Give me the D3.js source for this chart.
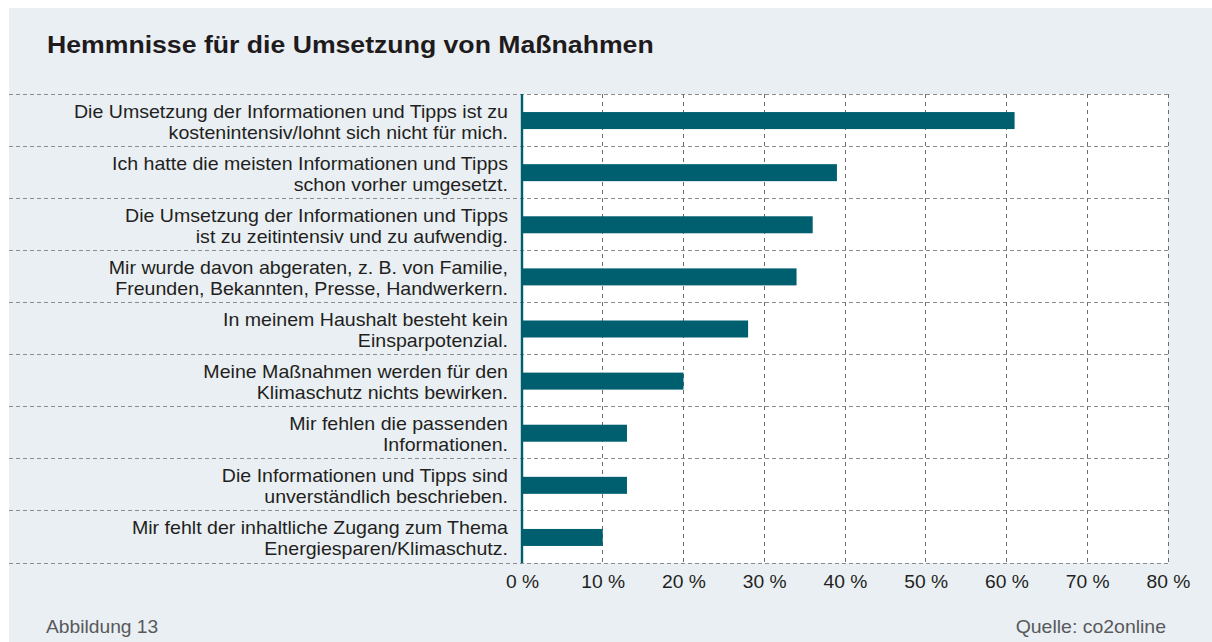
<!DOCTYPE html>
<html><head><meta charset="utf-8">
<script src="https://cdn.jsdelivr.net/npm/d3@7"></script>
<style>body{margin:0;background:#fff;}svg{display:block;font-family:"Liberation Sans",Arial,sans-serif;}</style>
</head><body>
<svg id="c" width="1212" height="642"></svg>
<script>
const categories = [
  ["Die Umsetzung der Informationen und Tipps ist zu","kostenintensiv/lohnt sich nicht für mich."],
  ["Ich hatte die meisten Informationen und Tipps","schon vorher umgesetzt."],
  ["Die Umsetzung der Informationen und Tipps","ist zu zeitintensiv und zu aufwendig."],
  ["Mir wurde davon abgeraten, z. B. von Familie,","Freunden, Bekannten, Presse, Handwerkern."],
  ["In meinem Haushalt besteht kein","Einsparpotenzial."],
  ["Meine Maßnahmen werden für den","Klimaschutz nichts bewirken."],
  ["Mir fehlen die passenden","Informationen."],
  ["Die Informationen und Tipps sind","unverständlich beschrieben."],
  ["Mir fehlt der inhaltliche Zugang zum Thema","Energiesparen/Klimaschutz."]
];
const values = [61, 39, 36, 34, 28, 20, 13, 13, 10];
const ticks = [0, 10, 20, 30, 40, 50, 60, 70, 80];
const title = "Hemmnisse für die Umsetzung von Maßnahmen";
const footLeft = "Abbildung 13";
const footRight = "Quelle: co2online";

const SX = 1.1; // horizontal stretch of the reference typography
const svg = d3.select("#c");
svg.append("rect").attr("x",9).attr("y",8).attr("width",1203).attr("height",634).attr("fill","#eaeff4");

const x = d3.scaleLinear().domain([0,80]).range([522,1168]);
const y = d3.scaleBand().domain(d3.range(categories.length)).range([94,563]).paddingInner(0).paddingOuter(0);

svg.append("rect").attr("x",x(0)).attr("y",94).attr("width",x(80)-x(0)).attr("height",563-94).attr("fill","#fff");

svg.append("text").attr("transform",`translate(47,53) scale(1.11,1)`)
  .attr("font-size",24).attr("font-weight","bold").attr("fill","#1f1b1c").text(title);

// horizontal grid lines
const hl = d3.range(categories.length+1).map(i => i===categories.length ? y.range()[1] : y(i));
svg.append("g").selectAll("line").data(hl).join("line")
  .attr("x1",9).attr("x2",x(80)).attr("y1",d=>d).attr("y2",d=>d)
  .attr("stroke","#8c8c8c").attr("stroke-width",1).attr("stroke-dasharray","4,3")
  .attr("shape-rendering","crispEdges");

// vertical grid lines
svg.append("g").selectAll("line").data(ticks.slice(1)).join("line")
  .attr("x1",d=>x(d)).attr("x2",d=>x(d)).attr("y1",94).attr("y2",563)
  .attr("stroke","#6e6e6e").attr("stroke-width",1).attr("stroke-dasharray","4,4")
  .attr("shape-rendering","crispEdges");

// bars
const bh = 17;
svg.append("g").selectAll("rect").data(values).join("rect")
  .attr("x",x(0)).attr("y",(d,i)=>y(i)+y.bandwidth()/2-bh/2+0.5)
  .attr("width",d=>x(d)-x(0)).attr("height",bh).attr("fill","#005f6f");

// axis line
svg.append("line").attr("x1",x(0)).attr("x2",x(0)).attr("y1",94).attr("y2",563)
  .attr("stroke","#005f6f").attr("stroke-width",2.4);

// labels
const lg = svg.append("g").selectAll("text").data(categories).join("text")
  .attr("text-anchor","end").attr("font-size",17.8).attr("fill","#231f20")
  .attr("transform",(d,i)=>`translate(508,${y(i)+y.bandwidth()/2}) scale(${SX},1)`);
lg.each(function(d){
  const t = d3.select(this);
  d.forEach((line,j)=>{
    t.append("tspan").attr("x",0).attr("y",-2.5+j*21).text(line);
  });
});

// x axis tick labels
const axis = d3.axisBottom(x).tickValues(ticks).tickFormat(d=>d+" %").tickSize(0).tickPadding(0);
const ag = svg.append("g").attr("transform","translate(0,575)").call(axis);
ag.select(".domain").remove();
ag.selectAll("text").attr("font-size",17.5).attr("fill","#231f20")
  .attr("font-family","Liberation Sans, Arial, sans-serif")
  .attr("y",12.8).attr("dy",null).attr("transform",`scale(${SX},1)`);

svg.append("text").attr("transform",`translate(46,633) scale(${SX},1)`).attr("font-size",17.5).attr("fill","#58595b").text(footLeft);
svg.append("text").attr("transform",`translate(1166,633) scale(${SX},1)`).attr("text-anchor","end").attr("font-size",17.7).attr("fill","#58595b").text(footRight);
</script>
</body></html>
